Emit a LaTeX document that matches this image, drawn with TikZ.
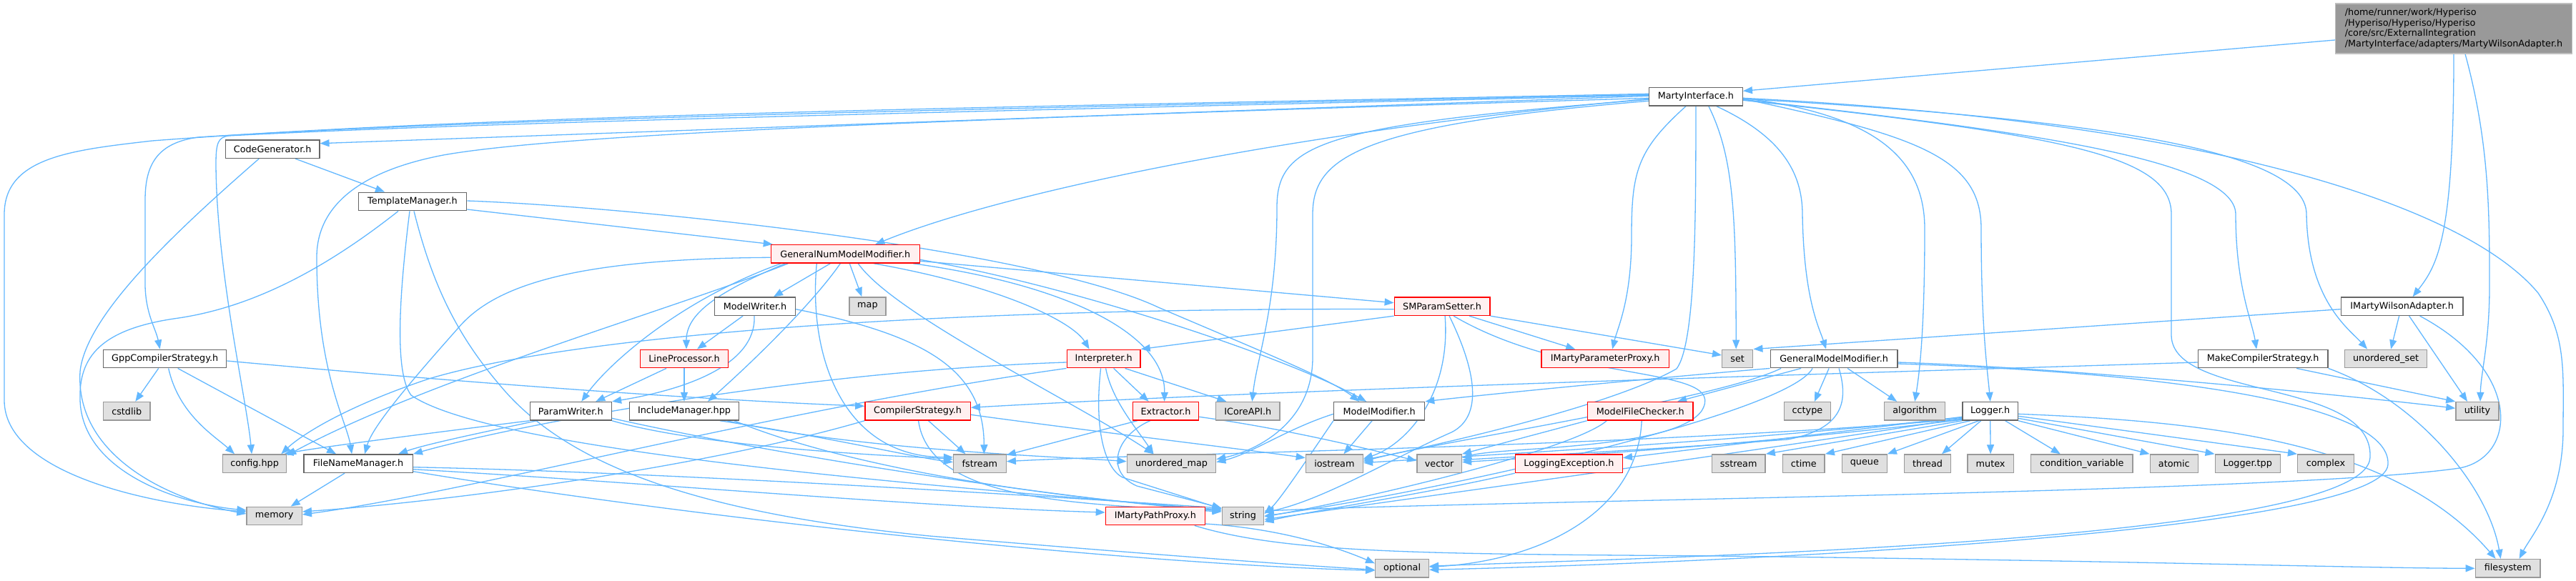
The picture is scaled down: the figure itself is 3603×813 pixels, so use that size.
\documentclass[tikz,border=0pt]{standalone}
\usepackage{fontspec}
\setmainfont{DejaVu Sans}
\usetikzlibrary{arrows.meta}
\definecolor{edgec}{HTML}{63B8FF}
\definecolor{gborder}{HTML}{999999}
\definecolor{gfill}{HTML}{E0E0E0}
\definecolor{nborder}{HTML}{666666}
\definecolor{rfill}{HTML}{FFF0F0}
\definecolor{mfill}{HTML}{999999}
\definecolor{mborder}{HTML}{BFBFBF}
\pgfdeclarelayer{bg}
\pgfsetlayers{bg,main}
\begin{document}
\begin{tikzpicture}[x=1pt,y=-1pt,
 box/.style={line width=1.4pt, minimum height=25.5pt, inner sep=0pt, font=\fontsize{12.8}{14.7}\selectfont},
 nn/.style={box,draw=nborder,fill=white},
 gn/.style={box,draw=gborder,fill=gfill},
 rn/.style={box,draw=red,fill=rfill},
 mn/.style={box,draw=mborder,fill=mfill,align=left,inner xsep=11pt,inner ysep=5pt,minimum width=331pt,minimum height=70pt},
 e/.style={draw=edgec,line width=1.3pt,-{Triangle[length=13pt,width=10pt]}}]
\begin{pgfonlayer}{bg}
\fill[white] (0,0) rectangle (3603,813);
\end{pgfonlayer}
\useasboundingbox (0,0) rectangle (3603,813);

% nodes
\node[mn] (main) at (3432,40) {/home/runner/work/Hyperiso\\/Hyperiso/Hyperiso/Hyperiso\\/core/src/ExternalIntegration\\/MartyInterface/adapters/MartyWilsonAdapter.h};
\node[nn,minimum width=130.7pt] (MI) at (2371.9,135.3) {MartyInterface.h};
\node[nn,minimum width=131.3pt] (CG) at (381.2,208.7) {CodeGenerator.h};
\node[nn,minimum width=151.2pt] (TM) at (577,282) {TemplateManager.h};
\node[rn,minimum width=207.8pt] (GNMM) at (1182.3,355.3) {GeneralNumModelModifier.h};
\node[nn,minimum width=113pt] (MW) at (1056,428.7) {ModelWriter.h};
\node[gn,minimum width=50.8pt] (nmap) at (1213.4,428.7) {map};
\node[rn,minimum width=133.6pt] (SMP) at (2017.1,428.7) {SMParamSetter.h};
\node[nn,minimum width=170.8pt] (IMWA) at (3359.6,428.7) {IMartyWilsonAdapter.h};
\node[nn,minimum width=172pt] (Gpp) at (230.7,502) {GppCompilerStrategy.h};
\node[rn,minimum width=122.5pt] (LP) at (957,502) {LineProcessor.h};
\node[rn,minimum width=102.8pt] (Interp) at (1543.6,502) {Interpreter.h};
\node[rn,minimum width=178.7pt] (IMPP) at (2245.2,502) {IMartyParameterProxy.h};
\node[gn,minimum width=43.1pt] (nset) at (2430.2,502) {set};
\node[nn,minimum width=177.6pt] (GMM) at (2565.1,502) {GeneralModelModifier.h};
\node[nn,minimum width=181.4pt] (MCS) at (3165.1,502) {MakeCompilerStrategy.h};
\node[gn,minimum width=114.9pt] (uset) at (3337.1,502) {unordered\_set};
\node[gn,minimum width=65.3pt] (cstdlib) at (177.3,575.3) {cstdlib};
\node[nn,minimum width=114.2pt] (PW) at (798.3,575.3) {ParamWriter.h};
\node[nn,minimum width=153.5pt] (IM) at (957,575.3) {IncludeManager.hpp};
\node[rn,minimum width=147.5pt] (CS) at (1283.6,575.3) {CompilerStrategy.h};
\node[rn,minimum width=91.8pt] (Ext) at (1630.6,575.3) {Extractor.h};
\node[gn,minimum width=89.4pt] (ICore) at (1745.3,575.3) {ICoreAPI.h};
\node[nn,minimum width=127pt] (MM) at (1929.1,575.3) {ModelModifier.h};
\node[rn,minimum width=147.9pt] (MFC) at (2294.2,575.3) {ModelFileChecker.h};
\node[gn,minimum width=65.2pt] (cctype) at (2527.9,575.3) {cctype};
\node[gn,minimum width=85pt] (algorithm) at (2678.2,575.3) {algorithm};
\node[nn,minimum width=77.1pt] (Logger) at (2783.7,575.3) {Logger.h};
\node[gn,minimum width=60.2pt] (utility) at (3465,575.3) {utility};
\node[gn,minimum width=89pt] (config) at (356.1,648.7) {config.hpp};
\node[nn,minimum width=152.3pt] (FNM) at (501.1,648.7) {FileNameManager.h};
\node[gn,minimum width=73.6pt] (fstream) at (1370.4,648.7) {fstream};
\node[gn,minimum width=124.2pt] (umap) at (1638.5,648.7) {unordered\_map};
\node[gn,minimum width=79.9pt] (iostream) at (1866.4,648.7) {iostream};
\node[gn,minimum width=62.5pt] (vector) at (2013.1,648.7) {vector};
\node[rn,minimum width=149.9pt] (LE) at (2194.4,648.7) {LoggingException.h};
\node[gn,minimum width=74.9pt] (sstream) at (2431.7,648.7) {sstream};
\node[gn,minimum width=58.9pt] (ctime) at (2522.7,648.7) {ctime};
\node[gn,minimum width=62.8pt] (queue) at (2607.8,648.7) {queue};
\node[gn,minimum width=64.5pt] (thread) at (2696,648.7) {thread};
\node[gn,minimum width=64.5pt] (mutex) at (2784.1,648.7) {mutex};
\node[gn,minimum width=142.7pt] (condvar) at (2911.8,648.7) {condition\_variable};
\node[gn,minimum width=67.2pt] (atomic) at (3040.8,648.7) {atomic};
\node[gn,minimum width=91.1pt] (Ltpp) at (3143.8,648.7) {Logger.tpp};
\node[gn,minimum width=78.6pt] (complex) at (3252.9,648.7) {complex};
\node[gn,minimum width=77.1pt] (memory) at (383.7,722) {memory};
\node[rn,minimum width=138.8pt] (IMPathP) at (1615.8,722) {IMartyPathProxy.h};
\node[gn,minimum width=58.5pt] (nstring) at (1738.5,722) {string};
\node[gn,minimum width=74.7pt] (optional) at (1961.1,795.3) {optional};
\node[gn,minimum width=90.6pt] (filesystem) at (3507.6,795.3) {filesystem};

\begin{pgfonlayer}{bg}
% main
\draw[e] ([yshift=-16pt]main.west) -- ([yshift=8pt]MI.east);
\draw[e] (main.south) .. controls (3432,330) and (3410,370) .. ([xshift=15pt]IMWA.north);
\draw[e] ([xshift=16pt]main.south) .. controls (3482,200) and (3482,300) .. (3482,400) .. controls (3482,480) and (3470,520) .. ([xshift=4pt]utility.north);
% MartyInterface
\draw[e] ([yshift=1pt]MI.west) -- ([yshift=8pt]CG.east);
\draw[e] ([yshift=3pt]MI.west) .. controls (1400,152) and (700,165) .. (277,192) .. controls (220,200) and (203,230) .. (203,280) -- (203,400) .. controls (204,440) and (218,460) .. ([xshift=-7pt]Gpp.north);
\draw[e] ([yshift=4pt]MI.west) .. controls (1400,150) and (700,160) .. (213,197) .. controls (100,210) and (6,220) .. (6,300) -- (6,560) .. controls (6,660) and (200,705) .. ([yshift=6pt]memory.west);
\draw[e] ([yshift=2pt]MI.west) .. controls (1400,155) and (700,170) .. (320,190) .. controls (305,192) and (302,200) .. (302,230) .. controls (303,380) and (345,560) .. ([xshift=-4pt]config.north);
\draw[e] ([yshift=-2pt]MI.west) .. controls (1400,165) and (800,185) .. (620,217) .. controls (500,240) and (443,290) .. (443,360) .. controls (443,520) and (485,590) .. ([xshift=-9pt]FNM.north);
\draw[e] ([yshift=-3pt]MI.west) .. controls (1800,185) and (1400,270) .. ([xshift=42pt]GNMM.north);
\draw[e] ([yshift=-4pt]MI.west) .. controls (1850,175) and (1786,200) .. (1786,290) .. controls (1786,430) and (1758,500) .. ([xshift=6pt]ICore.north);
\draw[e] ([yshift=-6pt]MI.west) .. controls (1900,175) and (1836,220) .. (1836,300) -- (1836,500) .. controls (1836,590) and (1760,630) .. ([yshift=6pt]umap.east);
\draw[e] ([xshift=-14pt]MI.south) .. controls (2290,210) and (2282,240) .. (2282,330) .. controls (2282,420) and (2262,460) .. ([xshift=10pt]IMPP.north);
\draw[e] (MI.south) .. controls (2372,300) and (2372,480) .. (2345,516) .. controls (2250,570) and (2000,625) .. ([yshift=5pt]iostream.east);
\draw[e] ([xshift=18pt]MI.south) .. controls (2425,220) and (2428,300) .. ([xshift=-2pt]nset.north);
\draw[e] ([xshift=29pt]MI.south) .. controls (2490,190) and (2521,240) .. (2521,300) .. controls (2523,420) and (2545,460) .. ([xshift=-11pt]GMM.north);
\draw[e] ([yshift=-2pt]MI.east) .. controls (2620,160) and (2692,220) .. (2692,320) .. controls (2692,460) and (2685,520) .. (algorithm.north);
\draw[e] ([yshift=-3pt]MI.east) .. controls (2680,190) and (2771,220) .. (2771,320) .. controls (2771,460) and (2780,520) .. (Logger.north);
\draw[e] ([yshift=-4pt]MI.east) .. controls (2800,180) and (3127,220) .. (3127,300) .. controls (3127,400) and (3150,450) .. ([xshift=-9pt]MCS.north);
\draw[e] ([yshift=-3pt]MI.east) .. controls (3000,170) and (3226,220) .. (3226,300) .. controls (3228,420) and (3285,460) .. ([xshift=-26pt]uset.north);
\draw[e] ([yshift=-2pt]MI.east) .. controls (3100,170) and (3450,290) .. (3550,410) .. controls (3590,470) and (3585,520) .. (3585,600) .. controls (3585,700) and (3540,750) .. ([xshift=16pt]filesystem.north);
\draw[e] ([yshift=-5pt]MI.east) .. controls (2900,190) and (3037,220) .. (3037,300) -- (3037,470) .. controls (3040,560) and (3320,530) .. (3315,640) .. controls (3310,760) and (2300,780) .. ([yshift=3pt]optional.east);
% CodeGenerator
\draw[e] ([xshift=32pt]CG.south) -- ([xshift=-39pt]TM.north);
\draw[e] ([xshift=-19pt]CG.south) .. controls (250,320) and (120,440) .. (112,520) .. controls (105,640) and (240,700) .. ([yshift=3pt]memory.west);
% TemplateManager
\draw[e] ([yshift=-11pt]TM.east) -- ([xshift=3pt]GNMM.north west);
\draw[e] ([xshift=-20pt]TM.south) .. controls (450,380) and (350,430) .. (250,445) .. controls (140,460) and (110,500) .. (112,560) .. controls (115,660) and (250,705) .. ([yshift=8pt]memory.west);
\draw[e] ([xshift=-4pt]TM.south) .. controls (560,400) and (550,520) .. (575,553) .. controls (700,640) and (1450,690) .. ([yshift=8pt]nstring.west);
\draw[e] ([xshift=2pt]TM.south) .. controls (605,400) and (640,470) .. (700,540) .. controls (800,660) and (1000,720) .. (1300,750) .. controls (1600,775) and (1800,790) .. ([yshift=-2pt]optional.west);
\draw[e] ([yshift=1pt]TM.east) .. controls (900,290) and (1450,350) .. (1620,430) .. controls (1760,490) and (1860,530) .. ([xshift=-28pt]MM.north);
% GeneralNumModelModifier
\draw[e] ([xshift=-21pt]GNMM.south) -- ([xshift=26pt]MW.north);
\draw[e] ([xshift=6pt]GNMM.south) -- ([xshift=-8pt]nmap.north);
\draw[e] ([xshift=-7pt]GNMM.south) .. controls (1140,420) and (1060,500) .. ([xshift=33pt]IM.north);
\draw[e] ([xshift=-84pt]GNMM.south) .. controls (1000,410) and (960,440) .. ([xshift=3pt]LP.north);
\draw[e] ([xshift=-90pt]GNMM.south) .. controls (950,420) and (850,510) .. ([xshift=15pt]PW.north);
\draw[e] ([yshift=-5pt]GNMM.west) .. controls (800,362) and (690,400) .. (640,460) .. controls (560,550) and (520,600) .. ([xshift=9pt]FNM.north);
\draw[e] ([xshift=-80pt]GNMM.south) .. controls (950,430) and (600,530) .. ([yshift=-2pt]config.north east);
\draw[e] ([yshift=-10pt]GNMM.east) -- ([yshift=5pt]SMP.west);
\draw[e] ([xshift=40pt]GNMM.south) .. controls (1400,400) and (1500,450) .. ([xshift=-20pt]Interp.north);
\draw[e] ([xshift=95pt]GNMM.south) .. controls (1500,400) and (1630,470) .. ([xshift=-2pt]Ext.north);
\draw[e] ([yshift=-8pt]GNMM.east) .. controls (1500,400) and (1800,500) .. ([xshift=-18pt]MM.north);
\draw[e] ([xshift=18pt]GNMM.south) .. controls (1250,440) and (1500,560) .. ([xshift=-25pt]umap.north);
\draw[e] ([xshift=-40pt]GNMM.south) .. controls (1130,500) and (1180,640) .. ([yshift=9pt]fstream.west);
% ModelWriter
\draw[e] ([xshift=-17pt]MW.south) -- ([xshift=18pt]LP.north);
\draw[e] ([xshift=-1pt]MW.south) .. controls (1058,510) and (960,545) .. (PW.north east);
\draw[e] ([yshift=-4pt]MW.east) .. controls (1300,470) and (1376,520) .. ([xshift=6pt]fstream.north);
% LineProcessor
\draw[e] ([xshift=-25pt]LP.south) -- ([xshift=35pt]PW.north);
\draw[e] (LP.south) -- (IM.north);
% ParamWriter
\draw[e] (PW.south west) .. controls (650,600) and (450,625) .. ([xshift=-4pt]config.north east);
\draw[e] ([xshift=10pt]PW.south west) .. controls (700,600) and (600,620) .. ([xshift=56pt]FNM.north);
\draw[e] (PW.south east) .. controls (1000,630) and (1300,640) .. ([yshift=6pt]fstream.west);
\draw[e] ([yshift=-10pt]PW.east) .. controls (1100,640) and (1500,700) .. ([yshift=7pt]nstring.west);
% IncludeManager
\draw[e] ([xshift=50pt]IM.south) .. controls (1150,610) and (1280,640) .. ([yshift=2pt]fstream.west);
\draw[e] ([xshift=60pt]IM.south) .. controls (1200,630) and (1500,640) .. ([yshift=3pt]umap.west);
\draw[e] ([xshift=70pt]IM.south) .. controls (1200,660) and (1500,700) .. ([yshift=9pt]nstring.west);
% CompilerStrategy
\draw[e] ([xshift=15pt]CS.south) -- ([xshift=-20pt]fstream.north);
\draw[e] ([xshift=1pt]CS.south) .. controls (1300,700) and (1500,705) .. ([yshift=6pt]nstring.west);
\draw[e] (CS.south west) .. controls (1000,650) and (650,700) .. ([yshift=6pt]memory.east);
\draw[e] ([yshift=-5pt]CS.east) .. controls (1500,600) and (1750,630) .. ([yshift=8pt]iostream.west);
% Interpreter
\draw[e] ([xshift=14pt]Interp.south) -- ([xshift=-24pt]Ext.north);
\draw[e] ([xshift=3pt]Interp.south) .. controls (1555,560) and (1590,600) .. ([xshift=-25pt]umap.north);
\draw[e] ([xshift=-4pt]Interp.south) .. controls (1530,600) and (1545,655) .. (1570,668) -- ([yshift=10pt]nstring.west);
\draw[e] ([xshift=30pt]Interp.south) -- ([xshift=-30pt]ICore.north);
\draw[e] ([yshift=-5pt]Interp.west) .. controls (1100,520) and (700,600) .. (FNM.north east);
\draw[e] (Interp.south west) .. controls (1100,570) and (650,690) .. ([yshift=2pt]memory.east);
% Extractor
\draw[e] ([xshift=-40pt]Ext.south) -- ([yshift=12pt]fstream.east);
\draw[e] ([xshift=-22pt]Ext.south) .. controls (1560,610) and (1545,660) .. (1590,680) -- ([yshift=11pt]nstring.west);
\draw[e] ([yshift=-8pt]Ext.east) .. controls (1800,600) and (1920,630) .. ([yshift=4pt]vector.west);
% ModelModifier
\draw[e] ([xshift=-10pt]MM.south) -- ([xshift=13pt]iostream.north);
\draw[e] (MM.south west) .. controls (1830,640) and (1790,700) .. ([yshift=3pt]nstring.east);
\draw[e] ([yshift=-4pt]MM.west) .. controls (1800,600) and (1750,635) .. ([yshift=2pt]umap.east);
% ModelFileChecker
\draw[e] ([xshift=-47pt]MFC.south) .. controls (2200,630) and (1900,700) .. ([yshift=-1pt]nstring.east);
\draw[e] (MFC.south west) -- (vector.north east);
\draw[e] ([xshift=2pt]MFC.south) .. controls (2290,720) and (2150,785) .. ([yshift=2pt]optional.east);
% SMParamSetter
\draw[e] (SMP.south west) -- (Interp.north east);
\draw[e] ([yshift=-4pt]SMP.west) .. controls (1300,430) and (800,470) .. (600,530) .. controls (480,570) and (420,610) .. ([xshift=-8pt]config.north east);
\draw[e] ([xshift=38pt]SMP.south) -- ([xshift=-42pt]IMPP.north);
\draw[e] (SMP.south east) -- ([yshift=5pt]nset.west);
\draw[e] ([xshift=4pt]SMP.south) .. controls (2030,560) and (1960,625) .. ([yshift=7pt]iostream.east);
\draw[e] ([xshift=10pt]SMP.south) .. controls (2070,530) and (2070,585) .. (2030,605) .. controls (1950,640) and (1850,700) .. ([yshift=5pt]nstring.east);
\draw[e] ([xshift=16pt]SMP.south) .. controls (2200,540) and (2420,510) .. (2380,575) .. controls (2340,630) and (2100,625) .. ([yshift=8pt]vector.east);
% GeneralModelModifier
\draw[e] ([xshift=-7pt]GMM.south) -- ([xshift=10pt]cctype.north);
\draw[e] ([xshift=19pt]GMM.south) -- ([xshift=-25pt]algorithm.north);
\draw[e] ([xshift=-46pt]GMM.south) -- ([xshift=52pt]MFC.north);
\draw[e] (GMM.south west) .. controls (2300,530) and (2050,555) .. (MM.north east);
\draw[e] ([xshift=-74pt]GMM.south) .. controls (2400,560) and (2000,620) .. ([yshift=3pt]iostream.east);
\draw[e] ([xshift=-30pt]GMM.south) .. controls (2500,580) and (2000,690) .. (nstring.east);
\draw[e] ([xshift=7pt]GMM.south) .. controls (2585,560) and (2580,600) .. (2500,615) .. controls (2300,630) and (2100,640) .. ([yshift=5pt]vector.east);
\draw[e] ([yshift=-5pt]GMM.east) .. controls (2900,515) and (3300,555) .. ([yshift=4pt]utility.west);
\draw[e] ([yshift=-7pt]GMM.east) .. controls (3000,520) and (3345,560) .. (3340,650) .. controls (3335,740) and (2500,785) .. ([yshift=-2pt]optional.east);
% Logger
\draw[e] (Logger.south west) -- (sstream.north east);
\draw[e] ([xshift=-28pt]Logger.south) -- (ctime.north east);
\draw[e] ([xshift=-16pt]Logger.south) -- (queue.north east);
\draw[e] ([xshift=-13pt]Logger.south) -- ([xshift=20pt]thread.north);
\draw[e] (Logger.south) -- (mutex.north);
\draw[e] ([xshift=21pt]Logger.south) -- ([xshift=-30pt]condvar.north);
\draw[e] (Logger.south east) -- (atomic.north west);
\draw[e] ([yshift=-10pt]Logger.east) -- (Ltpp.north west);
\draw[e] ([yshift=-7pt]Logger.east) -- (complex.north west);
\draw[e] ([yshift=-4pt]Logger.east) .. controls (3100,590) and (3350,620) .. ([xshift=-17pt]filesystem.north);
\draw[e] ([yshift=-8pt]Logger.west) -- ([yshift=8pt]LE.east);
\draw[e] ([yshift=-9pt]Logger.west) .. controls (2400,620) and (2100,635) .. ([yshift=1pt]iostream.east);
\draw[e] ([yshift=-10pt]Logger.west) .. controls (2400,640) and (1950,700) .. ([yshift=-5pt]nstring.east);
\draw[e] ([yshift=-11pt]Logger.west) .. controls (2300,625) and (1600,635) .. ([yshift=3pt]fstream.east);
\draw[e] ([yshift=-12pt]Logger.west) .. controls (2400,628) and (2150,640) .. ([yshift=2pt]vector.east);
% LoggingException
\draw[e] (LE.south west) .. controls (2000,690) and (1850,712) .. ([yshift=-8pt]nstring.east);
% IMartyPathProxy
\draw[e] ([xshift=55pt]IMPathP.south) .. controls (1800,775) and (2000,775) .. (2400,778) .. controls (3000,785) and (3300,795) .. (filesystem.west);
\draw[e] ([yshift=-11pt]IMPathP.east) .. controls (1800,740) and (1880,770) .. ([yshift=7pt]optional.west);
% FileNameManager
\draw[e] ([xshift=-19pt]FNM.south) -- ([xshift=23pt]memory.north);
\draw[e] ([yshift=-8pt]FNM.east) .. controls (900,675) and (1300,710) .. ([yshift=5pt]IMPathP.west);
\draw[e] ([yshift=-11pt]FNM.east) .. controls (1000,730) and (1600,790) .. ([yshift=-3pt]optional.west);
\draw[e] ([yshift=-5pt]FNM.east) .. controls (900,660) and (1400,690) .. ([yshift=11pt]nstring.west);
% GppCompilerStrategy
\draw[e] ([xshift=-9pt]Gpp.south) -- ([xshift=12pt]cstdlib.north);
\draw[e] ([xshift=5pt]Gpp.south) .. controls (250,580) and (300,610) .. ([xshift=-28pt]config.north);
\draw[e] ([xshift=18pt]Gpp.south) -- ([xshift=-31pt]FNM.north);
\draw[e] ([yshift=-3pt]Gpp.east) .. controls (700,540) and (1000,560) .. ([yshift=7pt]CS.west);
% MakeCompilerStrategy
\draw[e] ([yshift=-5pt]MCS.west) .. controls (2500,525) and (1800,545) .. ([yshift=5pt]CS.east);
\draw[e] ([xshift=47pt]MCS.south) -- (utility.north west);
\draw[e] (MCS.south east) .. controls (3380,560) and (3480,680) .. ([xshift=-10pt]filesystem.north);
% IMartyWilsonAdapter
\draw[e] ([yshift=-4pt]IMWA.west) -- (nset.north east);
\draw[e] ([xshift=-4pt]IMWA.south) -- ([xshift=7pt]uset.north);
\draw[e] ([xshift=10pt]IMWA.south) -- ([xshift=-14pt]utility.north);
\draw[e] ([xshift=25pt]IMWA.south) .. controls (3530,520) and (3520,640) .. (3440,655) .. controls (3200,690) and (2100,700) .. ([yshift=7pt]nstring.east);
\end{pgfonlayer}
\end{tikzpicture}
\end{document}
